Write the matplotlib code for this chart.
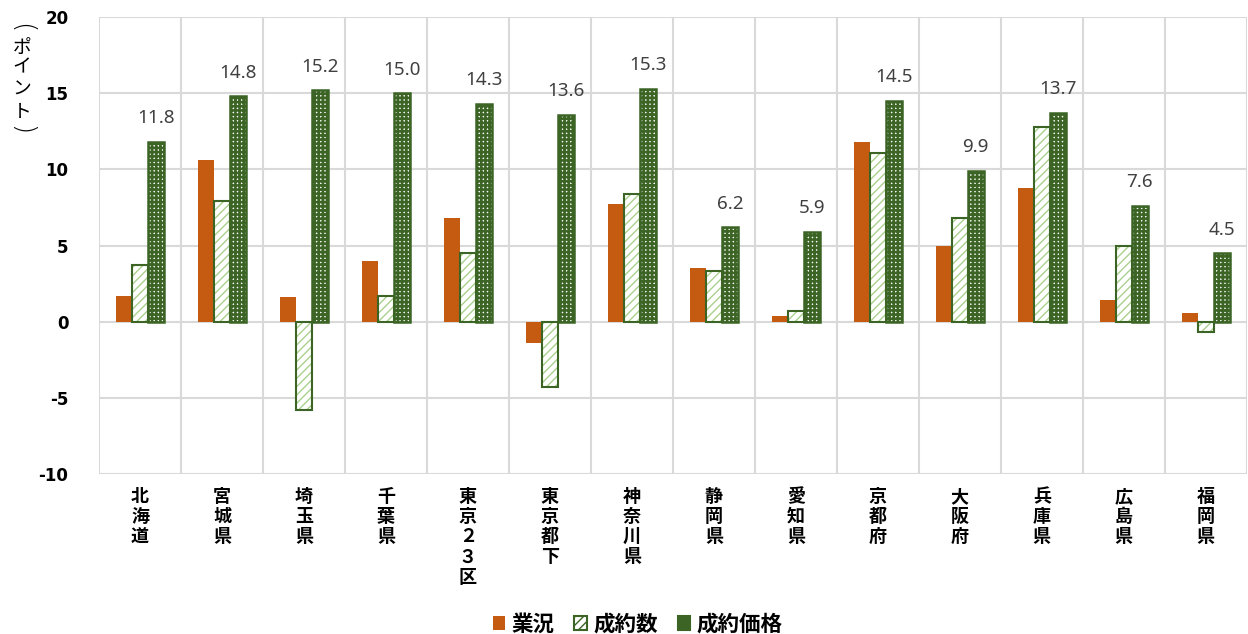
import matplotlib
matplotlib.use("Agg")
import matplotlib.pyplot as plt
import matplotlib.transforms as mtransforms
import numpy as np

plt.rcParams["font.family"] = ["Noto Sans CJK JP", "DejaVu Sans"]

# data
prefectures = ["北海道", "宮城県", "埼玉県", "千葉県", "東京２３区", "東京都下", "神奈川県",
               "静岡県", "愛知県", "京都府", "大阪府", "兵庫県", "広島県", "福岡県"]
gyokyo = [1.7, 10.6, 1.6, 4.0, 6.8, -1.4, 7.7, 3.5, 0.4, 11.8, 5.0, 8.8, 1.4, 0.6]
seiyaku_su = [3.7, 7.9, -5.8, 1.7, 4.5, -4.3, 8.4, 3.3, 0.7, 11.1, 6.8, 12.8, 5.0, -0.7]
seiyaku_kakaku = [11.8, 14.8, 15.2, 15.0, 14.3, 13.6, 15.3, 6.2, 5.9, 14.5, 9.9, 13.7, 7.6, 4.5]
series_names = ["業況", "成約数", "成約価格"]

ORANGE = "#C55A11"
DARK_GREEN = "#3B6425"
LIGHT_GREEN = "#A9D18E"
GRID = "#D9D9D9"

fig = plt.figure(figsize=(12.48, 6.34), dpi=100)
ax = fig.add_axes([0.0793, 0.2524, 0.9197, 0.7206])

x = np.arange(len(prefectures))
w = 0.195

# 業況
ax.bar(x - w, gyokyo, w, color=ORANGE, zorder=3)

# 成約数: white with light green diagonal hatch, dark green outline
plt.rcParams["hatch.linewidth"] = 1.0
ax.bar(x, seiyaku_su, w, facecolor="white", edgecolor=LIGHT_GREEN, hatch="////",
       linewidth=0, zorder=3)
ax.bar(x, seiyaku_su, w, facecolor="none", edgecolor=DARK_GREEN, linewidth=1.5, zorder=4)

# 成約価格: dark green grid leaving small white dots
plt.rcParams["hatch.linewidth"] = 1.9
ax.bar(x + w, seiyaku_kakaku, w, facecolor="white", edgecolor=DARK_GREEN, hatch="++++",
       linewidth=0, zorder=3)
ax.bar(x + w, seiyaku_kakaku, w, facecolor="none", edgecolor=DARK_GREEN, linewidth=1.8, zorder=4)

for xi, v in zip(x, seiyaku_kakaku):
    ax.annotate(f"{v:.1f}", (xi + w, v), xytext=(0, 17), textcoords="offset points",
                ha="center", va="center", fontsize=13.5, color="#404040",
                family=["Noto Sans", "DejaVu Sans"])

ax.set_xlim(-0.5, len(prefectures) - 0.5)
ax.set_ylim(-10, 20)
ax.set_yticks(np.arange(-10, 21, 5))
ax.set_yticklabels([str(t) for t in range(-10, 21, 5)], fontsize=12, fontweight="bold",
                   family=["DejaVu Sans"])
ax.tick_params(axis="y", length=0, pad=22)
ax.set_xticks([])

for t in np.arange(-10, 21, 5):
    ax.axhline(t, color=GRID, lw=1.5, zorder=1)
for b in np.arange(-0.5, len(prefectures), 1):
    ax.axvline(b, color=GRID, lw=1.5, zorder=1)
for s in ax.spines.values():
    s.set_visible(False)

# vertical category labels
trans = mtransforms.blended_transform_factory(ax.transData, ax.transAxes)
for xi, name in zip(x, prefectures):
    ax.text(xi, -0.028, "\n".join(name), transform=trans, ha="center", va="top",
            fontsize=13, fontweight="bold", linespacing=1.08)

# y axis title, one character per line, brackets turned
title_chars = ["(", "ポ", "イ", "ン", "ト", ")"]
title_y = [28, 47, 67, 89, 111, 130]
for ch, yp in zip(title_chars, title_y):
    if ch in "()":
        fig.text(22 / 1248, 1 - yp / 634, ch, ha="center", va="center", fontsize=19,
                 rotation=-90, family=["DejaVu Sans"], fontweight="light")
    else:
        fig.text(22 / 1248, 1 - yp / 634, ch, ha="center", va="center", fontsize=13.5)

# legend
plt.rcParams["hatch.linewidth"] = 1.0
handles = [
    plt.Rectangle((0, 0), 1, 1, facecolor=ORANGE, edgecolor="none"),
    plt.Rectangle((0, 0), 1, 1, facecolor="white", edgecolor=DARK_GREEN, lw=1.5, hatch="////"),
    plt.Rectangle((0, 0), 1, 1, facecolor=DARK_GREEN, edgecolor=DARK_GREEN, lw=1.5),
]
fig.legend(handles, series_names, loc="center", bbox_to_anchor=(0.511, 0.016), ncol=3,
           frameon=False, prop={"size": 15.5, "weight": "bold"}, handlelength=0.6,
           handleheight=0.6, columnspacing=0.9, handletextpad=0.3)

fig.savefig("out.png", dpi=100)
